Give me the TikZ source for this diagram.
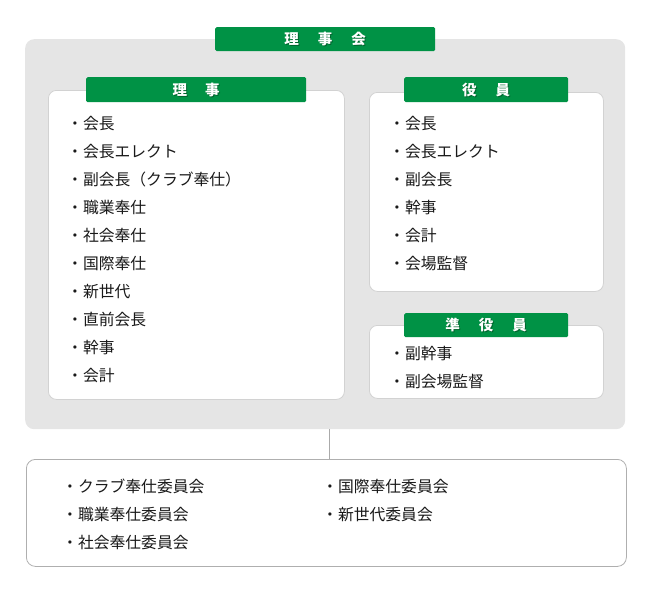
\documentclass[tikz,border=0pt]{standalone}
\usepackage{fontspec}
\setmainfont{Noto Sans CJK JP}
\definecolor{hdrgreen}{RGB}{0,146,69}
\definecolor{shadowgreen}{RGB}{0,70,30}
\definecolor{bggray}{RGB}{229,229,229}
\definecolor{panelline}{RGB}{210,210,210}
\definecolor{outerline}{RGB}{175,175,175}
\definecolor{textcol}{RGB}{25,25,25}
\definecolor{connline}{RGB}{170,170,170}
\tikzset{
  bgpanel/.style={fill=bggray, rounded corners=9pt, inner sep=0pt, anchor=north west},
  panel/.style={draw=panelline, fill=white, rounded corners=8pt, line width=0.8pt, inner sep=0pt, anchor=north west},
  outerpanel/.style={draw=outerline, fill=white, rounded corners=9pt, line width=0.8pt, inner sep=0pt, anchor=north west},
  hdr/.style={fill=hdrgreen, rounded corners=1.5pt, inner sep=0pt, anchor=north west},
  hdrtext/.style={text=white, inner sep=0pt, font=\bfseries\fontsize{14.5}{14.5}\selectfont},
  hdrshadow/.style={text=shadowgreen, opacity=0.6, inner sep=0pt, font=\bfseries\fontsize{14.5}{14.5}\selectfont},
  item/.style={anchor=base west, inner sep=0pt, text=textcol, font=\fontsize{15.8}{15.8}\selectfont},
  conn/.style={draw=connline, line width=0.8pt},
}
\begin{document}
\begin{tikzpicture}[x=1pt,y=-1pt]
\useasboundingbox (0,0) rectangle (650,600);
% gray background
\node[bgpanel, minimum width=600pt, minimum height=390pt] (bg) at (25,39) {};
% top header
\node[hdr, minimum width=220pt, minimum height=24pt] (h0) at (215,27) {};
\node[hdrshadow] (h0s) at ([shift={(0.9,0.9)}]h0.center) {理\hspace{19pt}事\hspace{19pt}会};
\node[hdrtext] (h0t) at (h0.center) {理\hspace{19pt}事\hspace{19pt}会};
% riji panel
\node[panel, minimum width=296pt, minimum height=309pt] (p1) at (48,90) {};
\node[hdr, minimum width=220pt, minimum height=25pt] (h1) at (86,77) {};
\node[hdrshadow] (h1s) at ([shift={(0.9,0.9)}]h1.center) {理\hspace{18pt}事};
\node[hdrtext] (h1t) at (h1.center) {理\hspace{18pt}事};
\foreach \t [count=\i] in {会長,会長エレクト,{副会長（クラブ奉仕）},職業奉仕,社会奉仕,国際奉仕,新世代,直前会長,幹事,会計}
  \node[item] (r\i) at (67,129+28*\i-28) {・\t};
% yakuin panel
\node[panel, minimum width=234pt, minimum height=199pt] (p2) at (369,92) {};
\node[hdr, minimum width=164pt, minimum height=25pt] (h2) at (404,77) {};
\node[hdrshadow] (h2s) at ([shift={(0.9,0.9)}]h2.center) {役\hspace{19pt}員};
\node[hdrtext] (h2t) at (h2.center) {役\hspace{19pt}員};
\foreach \t [count=\i] in {会長,会長エレクト,副会長,幹事,会計,会場監督}
  \node[item] (y\i) at (389,129+28*\i-28) {・\t};
% jun-yakuin panel
\node[panel, minimum width=234pt, minimum height=73pt] (p3) at (369,325) {};
\node[hdr, minimum width=164pt, minimum height=24pt] (h3) at (404,313) {};
\node[hdrshadow] (h3s) at ([shift={(0.9,0.9)}]h3.center) {準\hspace{19pt}役\hspace{19pt}員};
\node[hdrtext] (h3t) at (h3.center) {準\hspace{19pt}役\hspace{19pt}員};
\node[item] (j1) at (389,359) {・副幹事};
\node[item] (j2) at (389,387) {・副会場監督};
% bottom panel
\node[outerpanel, minimum width=600pt, minimum height=107pt] (p4) at (26,459) {};
\node[item] (b1) at (62,492) {・クラブ奉仕委員会};
\node[item] (b2) at (62,520) {・職業奉仕委員会};
\node[item] (b3) at (62,548) {・社会奉仕委員会};
\node[item] (b4) at (322,492) {・国際奉仕委員会};
\node[item] (b5) at (322,520) {・新世代委員会};
% connector
\path (bg.south) ++(4,0) coordinate (ctop);
\draw[conn] (ctop) -- (ctop |- p4.north);
\end{tikzpicture}
\end{document}
